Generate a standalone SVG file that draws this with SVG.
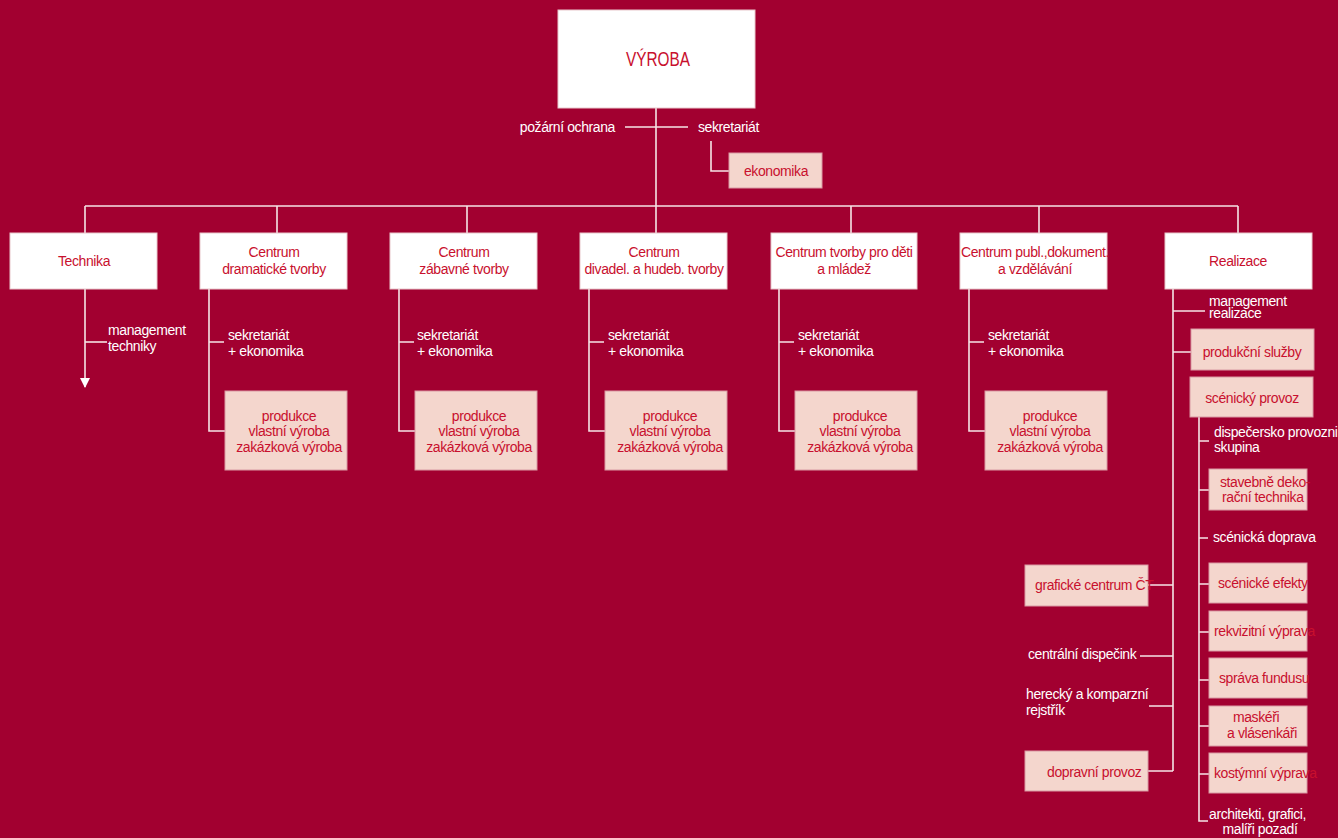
<svg xmlns="http://www.w3.org/2000/svg" width="1338" height="838" viewBox="0 0 1338 838">
<style>
text{font-family:'Liberation Sans',Arial,sans-serif;font-size:14px;letter-spacing:-0.4px}
.w{fill:#ffffff;stroke:#e8c8cc;stroke-width:1}
.p{fill:#f4d6cd;stroke:#d99aa3;stroke-width:1}
.r{fill:#c8102e}
.m{text-anchor:middle}
.lbl{fill:#ffffff}
.ln{stroke:#f6e4e6;stroke-width:1.6;fill:none}
</style>
<defs>
<marker id="arr" viewBox="0 0 10 10" refX="9" refY="5" markerWidth="10" markerHeight="10" markerUnits="userSpaceOnUse" orient="auto"><path d="M0,0 L10,5 L0,10 z" fill="#ffffff"/></marker>
</defs>
<rect width="1338" height="838" fill="#a20030"/>
<g id="connectors" class="ln">
<path d="M656,108 V206"/>
<path d="M625,127 H688"/>
<path d="M711,141 V171 H729"/>
<path d="M85,206 H1238"/>
<path d="M85,206 V233 M277,206 V233 M467,206 V233 M656,206 V233 M851,206 V233 M1039,206 V233 M1238,206 V233"/>
<path d="M85,289 V387" marker-end="url(#arr)"/>
<path d="M85,342 H107"/>
<path d="M209,289 V431 H225 M209,342 H224"/>
<path d="M399,289 V431 H415 M399,342 H414"/>
<path d="M589,289 V431 H605 M589,342 H604"/>
<path d="M779,289 V431 H795 M779,342 H794"/>
<path d="M969,289 V431 H985 M969,342 H984"/>
<path d="M1173,289 V771 M1173,311 H1205 M1173,352 H1191 M1148,585 H1173 M1140,656 H1173 M1149,706 H1173 M1148,771 H1173"/>
<path d="M1199,417 V821 H1208 M1199,441 H1209 M1199,490 H1209 M1199,538 H1208 M1199,584 H1209 M1199,632 H1209 M1199,680 H1209 M1199,726 H1209 M1199,774 H1209"/>
</g>
<g id="vyroba"><rect class="w" x="558" y="10" width="197" height="98"/><text class="r" x="626" y="66" style="font-size:20px;letter-spacing:0" textLength="64" lengthAdjust="spacingAndGlyphs">VÝROBA</text></g>
<g id="pozarni"><text class="lbl" x="615" y="132" text-anchor="end">požární ochrana</text></g>
<g id="sekretariat"><text class="lbl" x="698" y="132">sekretariát</text></g>
<g id="ekonomika"><rect class="p" x="729" y="153" width="93" height="35"/><text class="r m" x="776" y="176">ekonomika</text></g>

<g id="technika"><rect class="w" x="10" y="233" width="147" height="56"/><text class="r m" x="84" y="266">Technika</text></g>
<g id="mgmt-techniky"><text class="lbl" x="108" y="335">management</text><text class="lbl" x="108" y="351">techniky</text></g>

<g id="c-dram"><rect class="w" x="200" y="233" width="147" height="56"/><text class="r m" x="274" y="257">Centrum</text><text class="r m" x="274" y="274">dramatické tvorby</text></g>
<g id="c-dram-sek"><text class="lbl" x="228" y="340">sekretariát</text><text class="lbl" x="228" y="356">+ ekonomika</text></g>
<g id="c-dram-prod"><rect class="p" x="225" y="391" width="122" height="79"/><text class="r m" x="289" y="421">produkce</text><text class="r m" x="289" y="436">vlastní výroba</text><text class="r m" x="289" y="452">zakázková výroba</text></g>

<g id="c-zab"><rect class="w" x="390" y="233" width="147" height="56"/><text class="r m" x="464" y="257">Centrum</text><text class="r m" x="464" y="274">zábavné tvorby</text></g>
<g id="c-zab-sek"><text class="lbl" x="417" y="340">sekretariát</text><text class="lbl" x="417" y="356">+ ekonomika</text></g>
<g id="c-zab-prod"><rect class="p" x="415" y="391" width="122" height="79"/><text class="r m" x="479" y="421">produkce</text><text class="r m" x="479" y="436">vlastní výroba</text><text class="r m" x="479" y="452">zakázková výroba</text></g>

<g id="c-div"><rect class="w" x="580" y="233" width="147" height="56"/><text class="r m" x="654" y="257">Centrum</text><text class="r m" x="654" y="274">divadel. a hudeb. tvorby</text></g>
<g id="c-div-sek"><text class="lbl" x="608" y="340">sekretariát</text><text class="lbl" x="608" y="356">+ ekonomika</text></g>
<g id="c-div-prod"><rect class="p" x="605" y="391" width="122" height="79"/><text class="r m" x="670" y="421">produkce</text><text class="r m" x="670" y="436">vlastní výroba</text><text class="r m" x="670" y="452">zakázková výroba</text></g>

<g id="c-deti"><rect class="w" x="771" y="233" width="146" height="56"/><text class="r m" x="844" y="257">Centrum tvorby pro děti</text><text class="r m" x="844" y="274">a mládež</text></g>
<g id="c-deti-sek"><text class="lbl" x="798" y="340">sekretariát</text><text class="lbl" x="798" y="356">+ ekonomika</text></g>
<g id="c-deti-prod"><rect class="p" x="795" y="391" width="122" height="79"/><text class="r m" x="860" y="421">produkce</text><text class="r m" x="860" y="436">vlastní výroba</text><text class="r m" x="860" y="452">zakázková výroba</text></g>

<g id="c-publ"><rect class="w" x="960" y="233" width="147" height="56"/><text class="r m" x="1035" y="257">Centrum publ.,dokument.</text><text class="r m" x="1035" y="274">a vzdělávání</text></g>
<g id="c-publ-sek"><text class="lbl" x="988" y="340">sekretariát</text><text class="lbl" x="988" y="356">+ ekonomika</text></g>
<g id="c-publ-prod"><rect class="p" x="985" y="391" width="122" height="79"/><text class="r m" x="1050" y="421">produkce</text><text class="r m" x="1050" y="436">vlastní výroba</text><text class="r m" x="1050" y="452">zakázková výroba</text></g>

<g id="realizace"><rect class="w" x="1165" y="233" width="147" height="56"/><text class="r m" x="1238" y="266">Realizace</text></g>
<g id="mgmt-realizace"><text class="lbl" x="1209" y="306">management</text><text class="lbl" x="1209" y="318">realizace</text></g>
<g id="produkcni-sluzby"><rect class="p" x="1191" y="329" width="123" height="41"/><text class="r m" x="1252" y="357">produkční služby</text></g>
<g id="scenicky-provoz"><rect class="p" x="1190" y="377" width="123" height="40"/><text class="r m" x="1252" y="403">scénický provoz</text></g>
<g id="dispecersko"><text class="lbl" x="1214" y="437">dispečersko provozni</text><text class="lbl" x="1214" y="452">skupina</text></g>
<g id="stavebne"><rect class="p" x="1209" y="469" width="98" height="41"/><text class="r" x="1220" y="487">stavebně deko-</text><text class="r" x="1222" y="502">rační technika</text></g>
<g id="scenicka-doprava"><text class="lbl" x="1213" y="542">scénická doprava</text></g>
<g id="scenicke-efekty"><rect class="p" x="1209" y="563" width="98" height="40"/><text class="r" x="1218" y="588">scénické efekty</text></g>
<g id="rekvizitni"><rect class="p" x="1209" y="611" width="98" height="40"/><text class="r" x="1214" y="636">rekvizitní výprava</text></g>
<g id="sprava-fundusu"><rect class="p" x="1209" y="658" width="98" height="40"/><text class="r" x="1219" y="683">správa fundusu</text></g>
<g id="maskeri"><rect class="p" x="1209" y="706" width="98" height="40"/><text class="r m" x="1256" y="722">maskéři</text><text class="r m" x="1262" y="738">a vlásenkáři</text></g>
<g id="kostymni"><rect class="p" x="1209" y="753" width="98" height="40"/><text class="r" x="1214" y="778">kostýmní výprava</text></g>
<g id="architekti"><text class="lbl" x="1209" y="819">architekti, grafici,</text><text class="lbl m" x="1260" y="834">malíři pozadí</text></g>
<g id="graficke-centrum"><rect class="p" x="1025" y="565" width="123" height="41"/><text class="r" x="1035" y="590">grafické centrum ČT</text></g>
<g id="centralni-dispecink"><text class="lbl" x="1028" y="659">centrální dispečink</text></g>
<g id="herecky"><text class="lbl" x="1026" y="699">herecký a komparzní</text><text class="lbl" x="1026" y="715">rejstřík</text></g>
<g id="dopravni-provoz"><rect class="p" x="1025" y="751" width="123" height="40"/><text class="r" x="1047" y="777">dopravní provoz</text></g>
</svg>
